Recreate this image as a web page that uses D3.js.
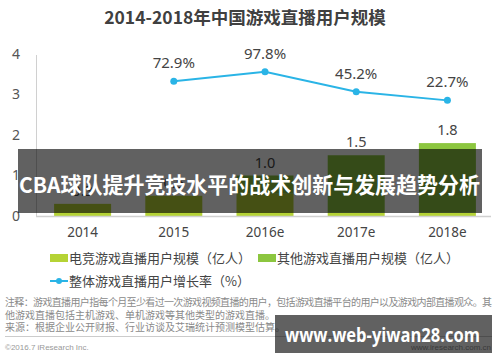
<!DOCTYPE html>
<html>
<head>
<meta charset="utf-8">
<script src="https://cdn.jsdelivr.net/npm/d3@7"></script>
<style>
  html, body { margin: 0; padding: 0; background: #fff; }
  svg { display: block; font-family: "Noto Sans CJK SC", "Noto Sans", sans-serif; }
</style>
</head>
<body>
<svg id="chart" width="500" height="362"></svg>
<script>
// chart data
const years = ['2014', '2015', '2016e', '2017e', '2018e'];
const esportsUsers = [0.3, 0.5, 0.55, 0.08, 0.08];   // 电竞游戏直播用户规模
const otherUsers = [0, 0, 0.45, 1.42, 1.72];         // 其他游戏直播用户规模
const totalLabels = ['0.3', '0.5', '1.0', '1.5', '1.8'];
const growthYears = ['2015', '2016e', '2017e', '2018e'];
const growthRate = [72.9, 97.8, 45.2, 22.7];
const yTicks = [0, 1, 2, 3, 4];

const svg = d3.select('#chart');

const lime = '#b5d335';
const green = '#8cc63f';
const blue = '#2ab4e6';

// Title
svg.append('text')
  .attr('x', 245)
  .attr('y', 24)
  .attr('text-anchor', 'middle')
  .attr('font-size', 17.5)
  .attr('font-weight', 'bold')
  .attr('fill', '#404040')
  .text('2014-2018年中国游戏直播用户规模');

// Scales
const x = d3.scaleBand()
  .domain(years)
  .range([37, 493])
  .paddingInner(0.375)
  .paddingOuter(0.1875);

const y = d3.scaleLinear()
  .domain([0, 4])
  .range([216, 54]);

const y2 = d3.scaleLinear()
  .domain([0, 100])
  .range([109, 71]);

// Y axis (labels only)
const yAxis = svg.append('g')
  .attr('transform', 'translate(20,0)')
  .call(d3.axisLeft(y).tickValues(yTicks).tickSize(0).tickPadding(0).tickFormat(d3.format('d')));
yAxis.select('.domain').remove();
yAxis.selectAll('text')
  .attr('font-size', 14)
  .attr('fill', '#555')
  .attr('font-family', '"Noto Sans", sans-serif');

svg.append('line')
  .attr('x1', 36.5).attr('x2', 36.5)
  .attr('y1', 55).attr('y2', 217)
  .attr('stroke', '#d0d0d0');

// Bars
const stackData = years.map((yr, i) => ({ year: yr, esports: esportsUsers[i], other: otherUsers[i] }));
const series = d3.stack().keys(['esports', 'other'])(stackData);
const colors = { esports: lime, other: green };

svg.append('g')
  .selectAll('g')
  .data(series)
  .join('g')
  .attr('fill', d => colors[d.key])
  .selectAll('rect')
  .data(d => d)
  .join('rect')
  .attr('x', d => x(d.data.year))
  .attr('y', d => y(d[1]))
  .attr('width', x.bandwidth())
  .attr('height', d => y(d[0]) - y(d[1]));

// Baseline
svg.append('line')
  .attr('x1', 36).attr('x2', 491)
  .attr('y1', 216.5).attr('y2', 216.5)
  .attr('stroke', '#d0d0d0')
  .attr('stroke-width', 1.5);

// X axis labels
const xAxis = svg.append('g')
  .attr('transform', 'translate(0,227)')
  .call(d3.axisBottom(x).tickSize(0).tickPadding(0));
xAxis.select('.domain').remove();
xAxis.selectAll('text')
  .attr('font-size', 13.5)
  .attr('fill', '#444')
  .attr('font-family', '"Noto Sans", sans-serif');

// Bar value labels
svg.append('g')
  .selectAll('text')
  .data(stackData)
  .join('text')
  .attr('x', d => x(d.year) + x.bandwidth() / 2)
  .attr('y', d => y(d.esports + d.other) - 8)
  .attr('text-anchor', 'middle')
  .attr('font-size', 14.5)
  .attr('fill', '#444')
  .attr('font-family', '"Noto Sans", sans-serif')
  .text((d, i) => totalLabels[i]);

// Growth line
const lineData = growthYears.map((yr, i) => ({ year: yr, rate: growthRate[i] }));
const cx = d => x(d.year) + x.bandwidth() / 2;

svg.append('path')
  .datum(lineData)
  .attr('fill', 'none')
  .attr('stroke', blue)
  .attr('stroke-width', 2)
  .attr('d', d3.line().x(cx).y(d => y2(d.rate)));

svg.append('g')
  .selectAll('circle')
  .data(lineData)
  .join('circle')
  .attr('cx', cx)
  .attr('cy', d => y2(d.rate))
  .attr('r', 3.5)
  .attr('fill', blue);

svg.append('g')
  .selectAll('text')
  .data(lineData)
  .join('text')
  .attr('x', cx)
  .attr('y', d => y2(d.rate) - 13)
  .attr('text-anchor', 'middle')
  .attr('font-size', 15)
  .attr('fill', '#444')
  .attr('font-family', '"Noto Sans", sans-serif')
  .text(d => d.rate.toFixed(1) + '%');

// Legend
const legend = svg.append('g').attr('font-size', 13).attr('fill', '#444');
legend.append('rect').attr('x', 50).attr('y', 254).attr('width', 18).attr('height', 8).attr('fill', lime);
legend.append('text').attr('x', 69).attr('y', 263).text('电竞游戏直播用户规模（亿人）');
legend.append('rect').attr('x', 258).attr('y', 254).attr('width', 18).attr('height', 8).attr('fill', green);
legend.append('text').attr('x', 277).attr('y', 263).text('其他游戏直播用户规模（亿人）');
legend.append('line').attr('x1', 50).attr('x2', 68).attr('y1', 281).attr('y2', 281).attr('stroke', blue).attr('stroke-width', 2);
legend.append('circle').attr('cx', 59).attr('cy', 281).attr('r', 3).attr('fill', blue);
legend.append('text').attr('x', 69).attr('y', 286).text('整体游戏直播用户增长率（%）');

// Notes
const notes = [
  '注释：游戏直播用户指每个月至少看过一次游戏视频直播的用户，包括游戏直播平台的用户以及游戏内部直播观众。其',
  '他游戏直播包括主机游戏、单机游戏等其他类型的游戏直播。',
  '来源：根据企业公开财报、行业访谈及艾瑞统计预测模型估算。'
];
svg.append('g')
  .selectAll('text')
  .data(notes)
  .join('text')
  .attr('x', 5)
  .attr('y', (d, i) => 306 + i * 12.5)
  .attr('font-size', 10)
  .attr('fill', '#8a8a8a')
  .attr('textLength', (d, i) => i === 0 ? 487 : null)
  .text(d => d);

svg.append('line')
  .attr('x1', 5).attr('x2', 492)
  .attr('y1', 336.5).attr('y2', 336.5)
  .attr('stroke', '#ccc');

svg.append('text')
  .attr('x', 5).attr('y', 350)
  .attr('font-size', 8)
  .attr('fill', '#999')
  .attr('font-family', '"Liberation Sans", sans-serif')
  .text('©2016.7 iResearch Inc.');

svg.append('text')
  .attr('x', 491).attr('y', 350)
  .attr('text-anchor', 'end')
  .attr('font-size', 8)
  .attr('fill', '#999')
  .attr('font-family', '"Liberation Sans", sans-serif')
  .text('www.iresearch.com.cn');

// Overlay banner
svg.append('rect')
  .attr('x', 18).attr('y', 149)
  .attr('width', 464).attr('height', 64)
  .attr('fill', 'rgba(0,0,0,0.62)');

svg.append('text')
  .attr('x', 19).attr('y', 193)
  .attr('font-size', 21.5)
  .attr('font-weight', 'bold')
  .attr('fill', '#fff')
  .attr('textLength', 461)
  .attr('lengthAdjust', 'spacingAndGlyphs')
  .text('CBA球队提升竞技水平的战术创新与发展趋势分析');

// Watermark box
svg.append('rect')
  .attr('x', 275).attr('y', 315)
  .attr('width', 217).attr('height', 38)
  .attr('fill', 'rgba(0,0,0,0.62)');

svg.append('text')
  .attr('x', 285).attr('y', 342)
  .attr('font-size', 19)
  .attr('font-weight', 'bold')
  .attr('fill', '#fff')
  .attr('font-family', '"Open Sans", "Noto Sans", sans-serif')
  .attr('textLength', 195)
  .attr('lengthAdjust', 'spacingAndGlyphs')
  .text('www.web-yiwan28.com');
</script>
</body>
</html>
